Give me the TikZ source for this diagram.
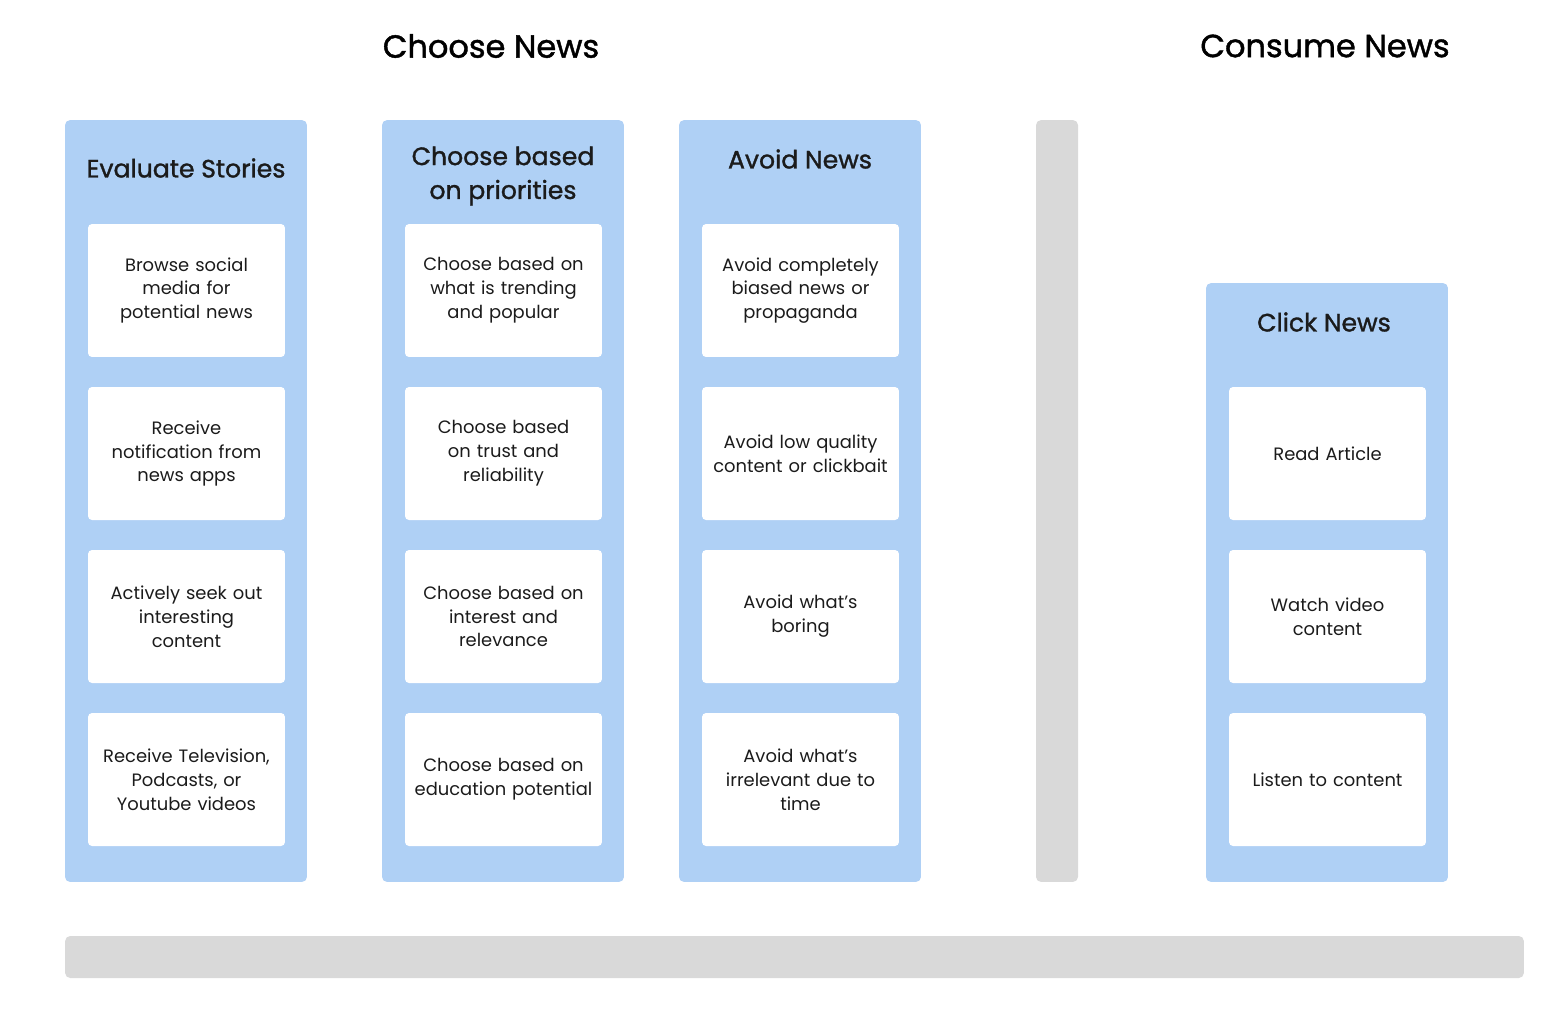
\documentclass[tikz,border=0pt]{standalone}
\usepackage{fontspec}
\setmainfont{Poppins}
\newfontfamily\headfont[FakeBold=1.3]{Poppins}
\usepackage{xcolor}
\usepackage{tikz}
\definecolor{lane}{HTML}{AFD0F5}
\definecolor{rail}{HTML}{D9D9D9}
\definecolor{ink}{HTML}{1B1B1B}
\tikzset{
    % lanes and cards
    lane/.style={fill=lane, rounded corners=0.1cm, minimum width=4.84cm, inner sep=0pt},
    card/.style={fill=white, rounded corners=0.08cm, minimum width=3.94cm, minimum height=2.66cm,
        text width=3.8cm, align=center, inner sep=0pt, text=ink, font=\fontsize{10.2}{13.6}\selectfont},
    lanetitle/.style={text=ink, align=center, font=\headfont\fontsize{14.3}{19.3}\selectfont},
    phase/.style={text=black, font=\headfont\fontsize{18.2}{21}\selectfont},
    rail/.style={fill=rail, rounded corners=0.1cm, inner sep=0pt}
}
\begin{document}
\begin{tikzpicture}[x=0.02cm, y=-0.02cm]
    \useasboundingbox (0,0) rectangle (1565,1012);
    % Phase headings
    \node[phase] (choose) at (491,46) {Choose News};
    \node[phase] (consume) at (1325,46) {Consume News};

    % Lanes
    \node[lane, minimum height=15.24cm] (evaluate) at (186,501) {};
    \node[lane, minimum height=15.24cm] (priorities) at (503,501) {};
    \node[lane, minimum height=15.24cm] (avoid) at (800,501) {};
    \node[lane, minimum height=11.98cm] (click) at (1327,582.5) {};

    % Grey rails
    \node[rail, minimum width=0.84cm, minimum height=15.24cm] (vrail) at (1057,501) {};
    \node[rail, minimum width=29.18cm, minimum height=0.84cm] (hrail) at (794.5,957) {};

    % Lane titles
    \node[lanetitle] (evaluatetitle) at (186,168) {Evaluate Stories};
    \node[lanetitle] (prioritiestitle) at (503,176) {Choose based\\on priorities};
    \node[lanetitle] (avoidtitle) at (800,159) {Avoid News};
    \node[lanetitle] (clicktitle) at (1324,322) {Click News};

    % Evaluate Stories cards
    \node[card] (browse) at (186.5,290.5) {Browse social\\media for\\potential news};
    \node[card] (notify) at (186.5,453.5) {Receive\\notification from\\news apps};
    \node[card] (seek) at (186.5,616.5) {Actively seek out\\interesting\\content};
    \node[card] (tv) at (186.5,779.5) {Receive Television,\\Podcasts, or\\Youtube videos};

    % Priorities cards
    \node[card] (trending) at (503.5,290.5) {Choose based on\\what is trending\\and popular};
    \node[card] (trust) at (503.5,453.5) {Choose based\\on trust and\\reliability};
    \node[card] (interest) at (503.5,616.5) {Choose based on\\interest and\\relevance};
    \node[card] (education) at (503.5,779.5) {Choose based on\\education potential};

    % Avoid News cards
    \node[card] (biased) at (800.5,290.5) {Avoid completely\\biased news or\\propaganda};
    \node[card] (clickbait) at (800.5,453.5) {Avoid low quality\\content or clickbait};
    \node[card] (boring) at (800.5,616.5) {Avoid what’s\\boring};
    \node[card] (irrelevant) at (800.5,779.5) {Avoid what’s\\irrelevant due to\\time};

    % Click News cards
    \node[card] (article) at (1327.5,453.5) {Read Article};
    \node[card] (video) at (1327.5,616.5) {Watch video\\content};
    \node[card] (listen) at (1327.5,779.5) {Listen to content};
\end{tikzpicture}
\end{document}
